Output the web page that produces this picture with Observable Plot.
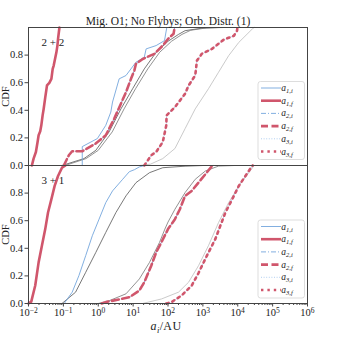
<!DOCTYPE html>
<html><head><meta charset="utf-8">
<script src="https://cdn.jsdelivr.net/npm/d3@7"></script>
<script src="https://cdn.jsdelivr.net/npm/@observablehq/plot@0.6"></script>
<style>body{margin:0;background:#fff} #chart{position:relative;width:343px;height:343px;overflow:hidden}</style>
</head><body><div id="chart"></div>
<script>
const title = "Mig. O1; No Flybys; Orb. Distr. (1)";
const panels = ["2 + 2", "3 + 1"];
const xTicks = [1e-2, 1e-1, 1e0, 1e1, 1e2, 1e3, 1e4, 1e5, 1e6];
const yTicks = [0, 0.2, 0.4, 0.6, 0.8];

// ---- top panel (2 + 2): semimajor axis a [AU] and CDF ----
const top_a1f_a = [0.0125,0.0140,0.0163,0.0182,0.0195,0.0217,0.0233,0.0254,0.0272,0.0303,0.0339,0.0396,0.0453,0.0494,0.0528,0.0590,0.0631,0.0675,0.0703,0.0771];
const top_a1f_cdf = [0,0.05,0.098,0.17,0.219,0.248,0.291,0.363,0.41,0.495,0.58,0.599,0.628,0.70,0.724,0.784,0.82,0.869,0.917,1.0];
const top_a1i_a = [0.348,0.348,0.942,1.644,2.29,2.57,3.98,6.24,12.0,20.9,23.6,45.7,79.4,92.3];
const top_a1i_cdf = [0,0.137,0.195,0.291,0.387,0.46,0.628,0.652,0.748,0.784,0.845,0.869,0.905,1.0];
const top_a2f_a = [0.1028,0.1432,0.1786,0.3475,0.845,1.644,2.864,4.467,6.237,8.69,10.84,12.02,18.84,40.7,70.8,100,144.5,154.9];
const top_a2f_cdf = [0,0.074,0.103,0.103,0.159,0.219,0.339,0.448,0.531,0.628,0.688,0.736,0.772,0.809,0.869,0.917,0.955,1.0];
const top_a3f_a = [20.9,33.1,45.7,70.8,89.1,91.2,158,309,389,603,676,933,1820,3981,7762,9550,9772];
const top_a3f_cdf = [0,0.074,0.098,0.17,0.29,0.363,0.423,0.52,0.58,0.652,0.76,0.809,0.845,0.912,0.94,0.977,1.0];
const top_grey1_a = [0.0912,0.389,0.851,2.04,4.47,9.66,20.9,45.7,100,200,309,933,2818];
const top_grey1_cdf = [0,0.05,0.11,0.243,0.41,0.556,0.70,0.82,0.90,0.95,0.977,0.995,1.0];
const top_grey2_a = [0.112,0.447,1.0,2.51,5.5,11.7,26.3,57.5,126,251,447,1259,3981];
const top_grey2_cdf = [0,0.05,0.11,0.243,0.41,0.556,0.70,0.82,0.90,0.95,0.98,0.997,1.0];
const top_grey3_a = [15.1,31.6,70.8,158,309,603,1445,2818,5495,10715,26300,29500];
const top_grey3_cdf = [0,0.01,0.05,0.123,0.267,0.41,0.556,0.676,0.796,0.892,0.99,1.0];

// ---- bottom panel (3 + 1) ----
const bot_a1f_a = [0.0100,0.0120,0.0156,0.0195,0.0243,0.0302,0.0363,0.0452,0.0562,0.0703,0.0912,0.1148];
const bot_a1f_cdf = [0,0.014,0.13,0.298,0.42,0.539,0.659,0.755,0.852,0.924,0.984,1.0];
const bot_a1i_a = [0.107,0.115,0.179,0.279,0.437,0.676,1.054,1.644,2.57,5.01,7.76,11.0,15.1,21.4];
const bot_a1i_cdf = [0,0.014,0.082,0.202,0.347,0.491,0.611,0.731,0.816,0.90,0.955,0.97,0.99,1.0];
const bot_a2f_a = [1.26,1.644,3.98,7.76,15.1,20.9,33.1,45.7,64.6,100,158,219,309,479,750,1175,1820,1995];
const bot_a2f_cdf = [0,0.01,0.03,0.045,0.094,0.154,0.274,0.37,0.443,0.539,0.611,0.683,0.78,0.816,0.876,0.936,0.996,1.0];
const bot_a3f_a = [89,126,245,479,750,1306,2265,3162,4416,6918,10715,16600,25700,26900];
const bot_a3f_cdf = [0,0.01,0.058,0.13,0.221,0.347,0.466,0.563,0.659,0.755,0.852,0.924,0.996,1.0];
const bot_grey1_a = [0.0912,0.224,0.437,0.851,1.644,3.21,6.24,12.1,29.5,70.8,309,1000];
const bot_grey1_cdf = [0,0.082,0.226,0.37,0.515,0.659,0.78,0.876,0.948,0.984,0.995,1.0];
const bot_grey2_a = [1.0,2.04,6.24,15.1,29.5,57.1,81.3,100,158,309,603,1175,2818,7943];
const bot_grey2_cdf = [0,0.02,0.07,0.178,0.298,0.443,0.539,0.59,0.683,0.804,0.90,0.96,0.996,1.0];
const bot_grey3_a = [18.6,65.3,200,389,750,1445,2818,5495,10715,20900,29500];
const bot_grey3_cdf = [0,0.033,0.082,0.154,0.274,0.419,0.587,0.731,0.852,0.948,1.0];

const BLUE = "#74a6dc", LBLUE = "#a9c9ee", RED = "#d0566c";
const styles = {
  grey1: {stroke: "#555", w: 0.8, dash: null},
  grey2: {stroke: "#777", w: 0.8, dash: null},
  grey3: {stroke: "#bdbdbd", w: 0.8, dash: null},
  a1i: {stroke: BLUE, w: 0.9, dash: null},
  a2i: {stroke: BLUE, w: 0.9, dash: "5,2,1,2"},
  a3i: {stroke: LBLUE, w: 0.9, dash: "1,1.6"},
  a1f: {stroke: RED, w: 2.6, dash: null},
  a2f: {stroke: RED, w: 2.6, dash: "7,3.5"},
  a3f: {stroke: RED, w: 2.6, dash: "2.4,4"}
};
const series = [
  [panels[0], "grey1", top_grey1_a, top_grey1_cdf],
  [panels[0], "grey2", top_grey2_a, top_grey2_cdf],
  [panels[0], "grey3", top_grey3_a, top_grey3_cdf],
  [panels[0], "a1i", top_a1i_a, top_a1i_cdf],
  [panels[0], "a2i", top_a2f_a, top_a2f_cdf],
  [panels[0], "a3i", top_a3f_a, top_a3f_cdf],
  [panels[0], "a1f", top_a1f_a, top_a1f_cdf],
  [panels[0], "a2f", top_a2f_a, top_a2f_cdf],
  [panels[0], "a3f", top_a3f_a, top_a3f_cdf],
  [panels[1], "grey1", bot_grey1_a, bot_grey1_cdf],
  [panels[1], "grey2", bot_grey2_a, bot_grey2_cdf],
  [panels[1], "grey3", bot_grey3_a, bot_grey3_cdf],
  [panels[1], "a1i", bot_a1i_a, bot_a1i_cdf],
  [panels[1], "a2i", bot_a2f_a, bot_a2f_cdf],
  [panels[1], "a3i", bot_a3f_a, bot_a3f_cdf],
  [panels[1], "a1f", bot_a1f_a, bot_a1f_cdf],
  [panels[1], "a2f", bot_a2f_a, bot_a2f_cdf],
  [panels[1], "a3f", bot_a3f_a, bot_a3f_cdf]
];
const rows = series.flatMap(([panel, key, as, cs]) => as.map((a, i) => ({panel, key, a, cdf: cs[i]})));
const order = ["grey1","grey2","grey3","a1i","a2i","a3i","a1f","a2f","a3f"];
const lineMarks = order.map(k => Plot.line(rows.filter(r => r.key === k), {
  x: "a", y: "cdf", fy: "panel", z: "panel",
  stroke: styles[k].stroke, strokeWidth: styles[k].w,
  strokeDasharray: styles[k].dash, strokeLinejoin: "round"
}));
const minorTicks = [];
for (let e = -2; e < 6; e++) for (let m = 2; m <= 9; m++) minorTicks.push(m * Math.pow(10, e));

const SERIF = "'Liberation Serif', 'DejaVu Serif', serif";
const plot = Plot.plot({
  width: 343, height: 343,
  marginLeft: 28, marginRight: 36, marginTop: 26, marginBottom: 40,
  style: {fontFamily: SERIF, fontSize: "10.5px", color: "#222", background: "white", overflow: "visible"},
  x: {type: "log", domain: [1e-2, 1e6]},
  y: {domain: [0, 1]},
  fy: {domain: panels, padding: 0, axis: null, label: null},
  marks: [
    ...lineMarks,
    Plot.axisX(minorTicks, {tickSize: 2, tickFormat: () => "", label: null, stroke: "#444"}),
    Plot.axisX(xTicks, {tickSize: 3.5, tickPadding: 1.5, tickFormat: d => "10^" + Math.round(Math.log10(d)), label: null, stroke: "#444"}),
    Plot.axisY(yTicks, {tickSize: 3.5, tickPadding: 2, tickFormat: d => d.toFixed(1), label: null, stroke: "#444"}),
    Plot.frame({stroke: "#444", strokeWidth: 1}),
    Plot.text(panels, {fy: d => d, text: d => d, frameAnchor: "top-left", dx: 13, dy: 11, fontSize: 11, textAnchor: "start", lineAnchor: "top"}),
    Plot.text(panels, {fy: d => d, text: () => "CDF", frameAnchor: "left", dx: -23, rotate: -90, textAnchor: "middle", lineAnchor: "middle", fontSize: 10.5}),
    Plot.text([title], {fy: () => panels[0], text: d => d, frameAnchor: "top", dy: -3, lineAnchor: "bottom", fontSize: 11.5, letterSpacing: "0.45px"})
  ]
});
document.getElementById("chart").appendChild(plot);
const svg = d3.select(plot.tagName.toLowerCase() === "svg" ? plot : plot.querySelector("svg"));

// superscript exponents for x tick labels
svg.selectAll("text").each(function () {
  const t = this.textContent;
  if (/^10\^-?\d+$/.test(t)) {
    const e = t.slice(3).replace("-", "\u2212");
    const s = d3.select(this);
    s.text("10");
    s.append("tspan").attr("dy", "-0.45em").attr("font-size", "0.72em").text(e);
  }
});

// x-axis label a_i/AU
const xl = svg.append("text").attr("x", 166).attr("y", 330).attr("text-anchor", "middle")
  .attr("font-family", SERIF).attr("font-size", 12).attr("fill", "#222").attr("letter-spacing", "0.4px");
xl.append("tspan").attr("font-style", "italic").text("a");
xl.append("tspan").attr("font-size", 8.5).attr("dy", 2.5).attr("font-style", "italic").text("i");
xl.append("tspan").attr("dy", -2.5).text("/AU");

// legends
const legendItems = [
  {key: "a1i", sub: "1,i"}, {key: "a1f", sub: "1,f"},
  {key: "a2i", sub: "2,i"}, {key: "a2f", sub: "2,f"},
  {key: "a3i", sub: "3,i"}, {key: "a3f", sub: "3,f"}
];
panels.forEach((p, pi) => {
  const top = (pi === 0 ? 26 : 164.5) + 55.5;
  const g = svg.append("g").attr("transform", `translate(258,${top})`);
  g.append("rect").attr("width", 46.5).attr("height", 78).attr("rx", 2.5)
    .attr("fill", "white").attr("fill-opacity", 0.85).attr("stroke", "#d4d4d4").attr("stroke-width", 0.8);
  legendItems.forEach((it, i) => {
    const y = 6.5 + i * 12.7;
    const st = styles[it.key];
    g.append("line").attr("x1", 3).attr("x2", 23).attr("y1", y).attr("y2", y)
      .attr("stroke", st.stroke).attr("stroke-width", st.w).attr("stroke-dasharray", st.dash);
    const tx = g.append("text").attr("x", 29).attr("y", y + 3).attr("font-family", SERIF)
      .attr("font-size", 9.5).attr("fill", "#222");
    tx.append("tspan").attr("font-style", "italic").text("a");
    tx.append("tspan").attr("font-size", 6.5).attr("dy", 2).attr("font-style", "italic").text(it.sub);
  });
});
</script>
</body></html>
